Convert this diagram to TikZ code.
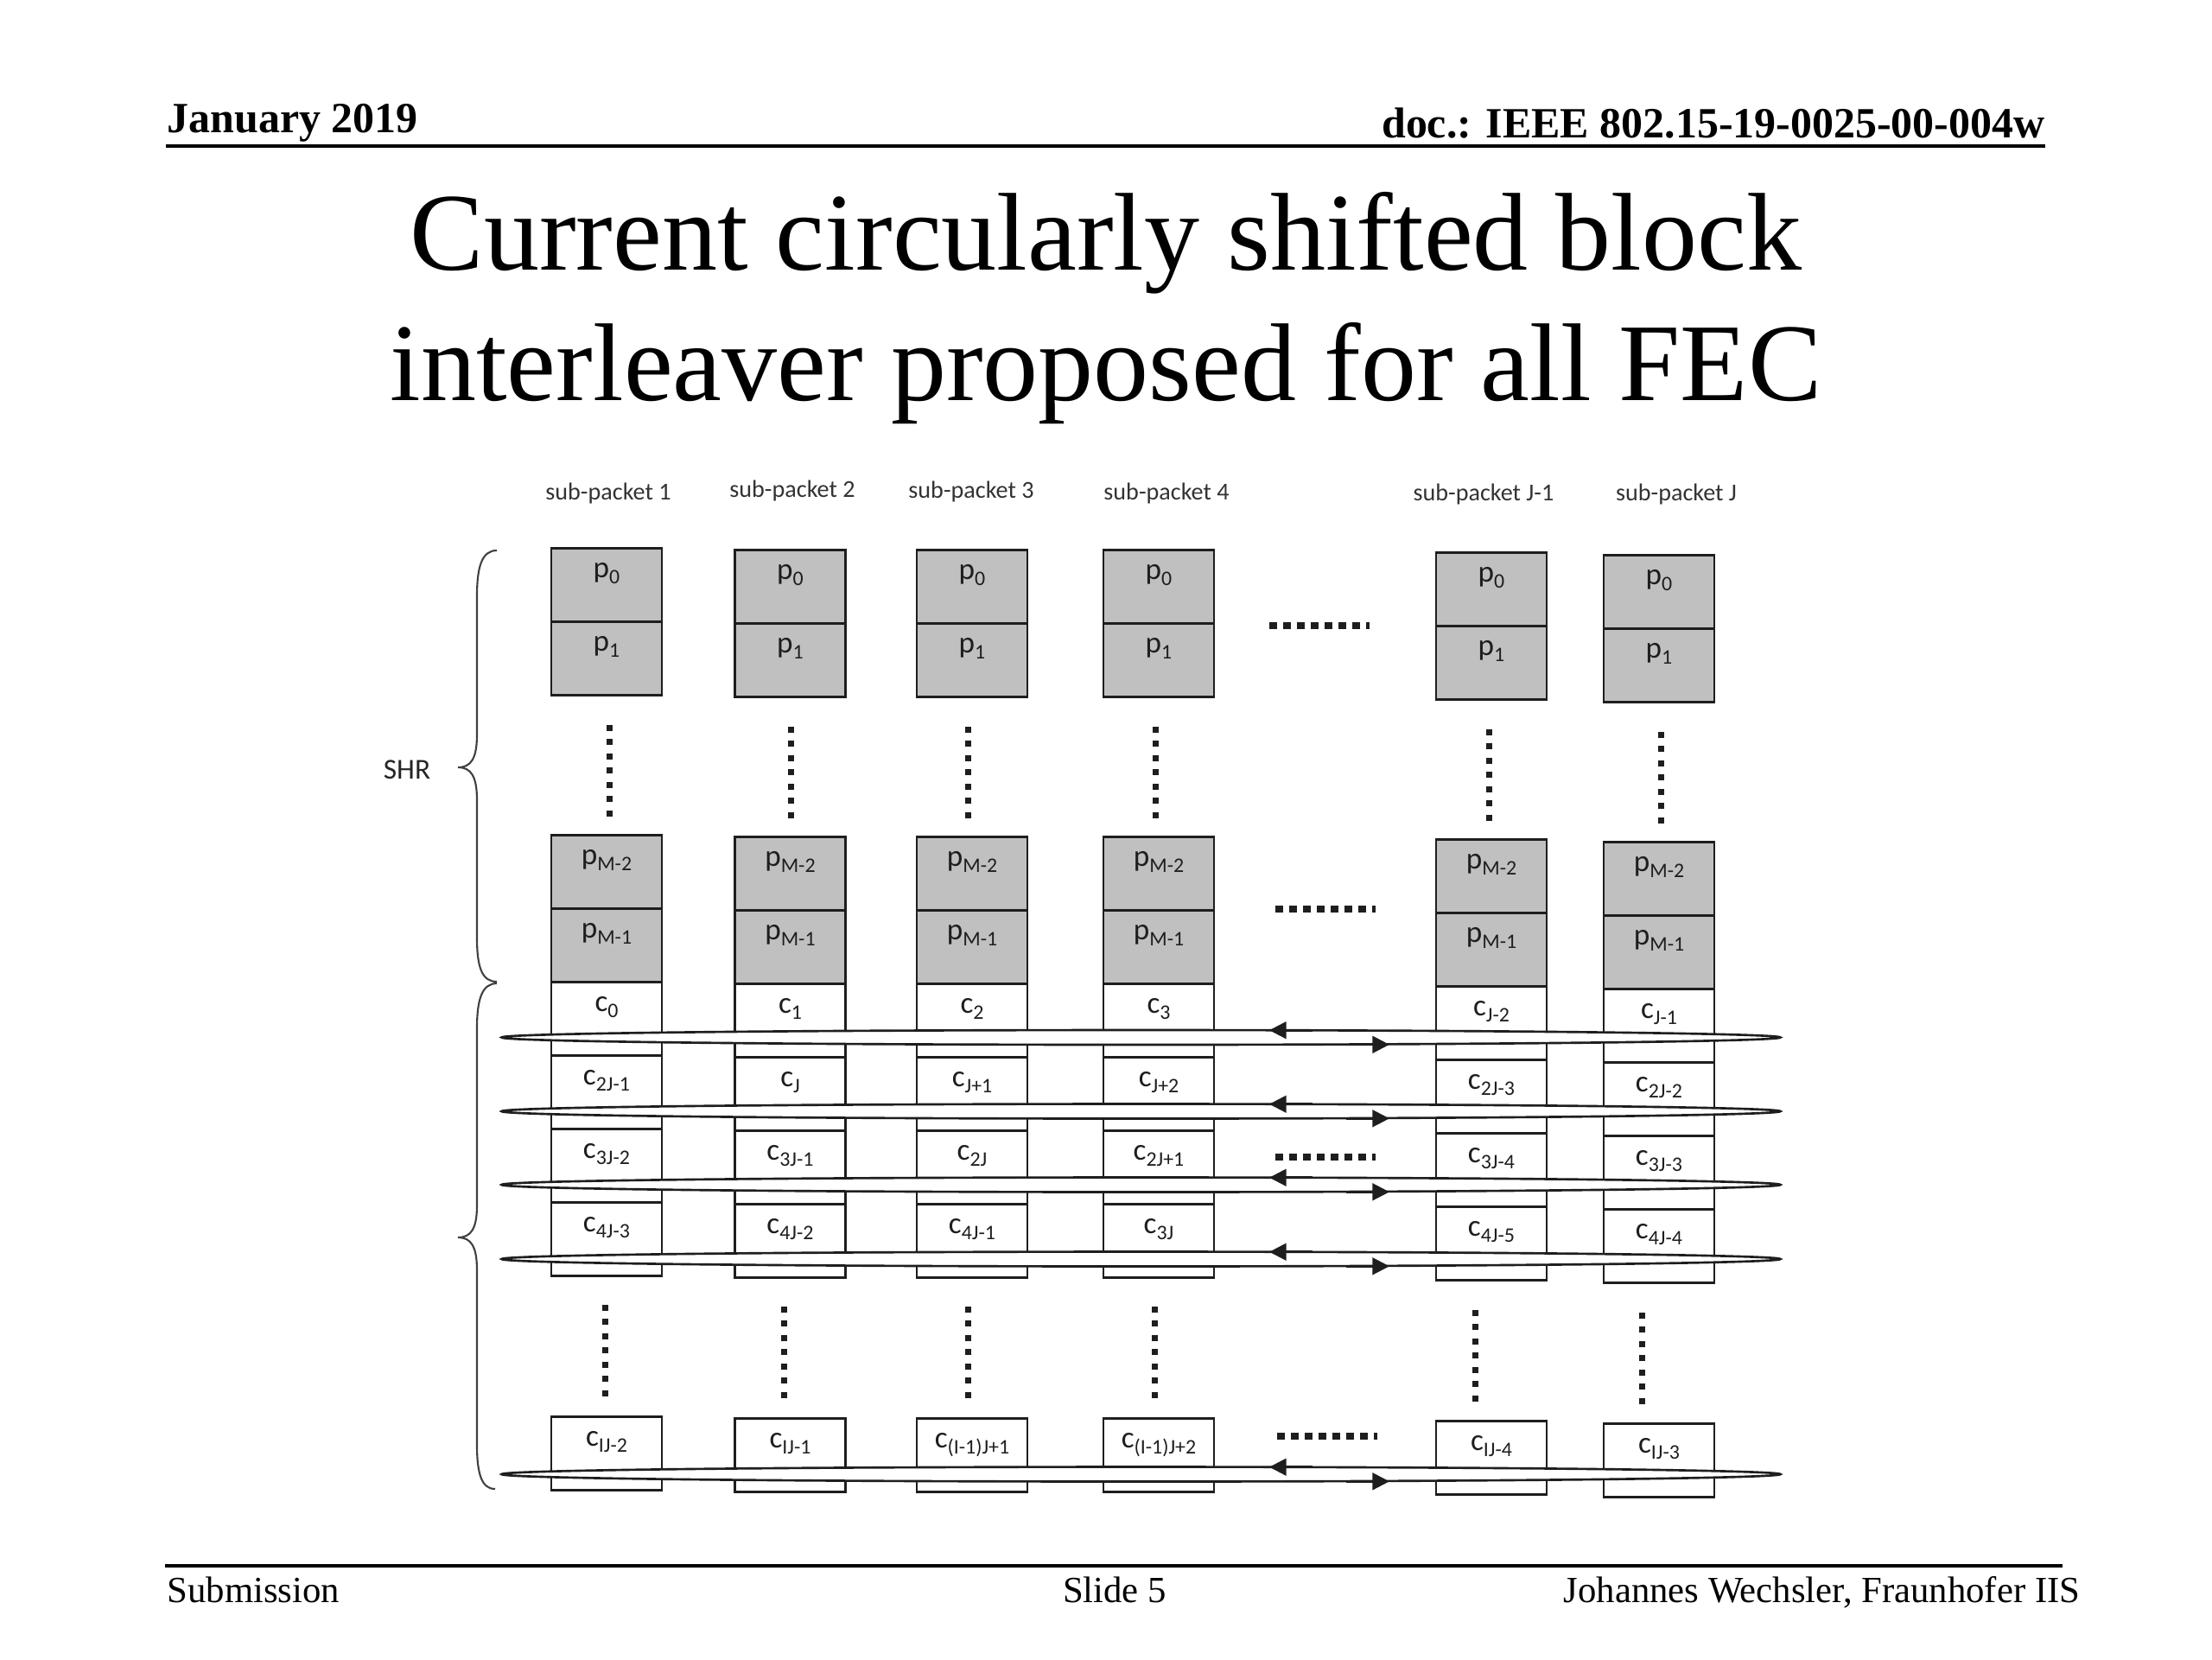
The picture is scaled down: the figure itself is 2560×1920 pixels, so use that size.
\documentclass[tikz,border=0pt]{standalone}
\usepackage{fontspec}
\setmainfont{Liberation Serif}
\newfontfamily\calfont{Carlito}
\usetikzlibrary{shapes.geometric,arrows.meta}
\definecolor{cellgray}{RGB}{192,192,192}
\definecolor{ink}{RGB}{30,30,30}
\newcommand\sublbl[2]{#1\raisebox{-2.2pt}{\fontsize{6.8pt}{7pt}\selectfont #2}}
\newcommand\mkcell[5]{%
  \node[cellbox,fill=#4] (#1) at (#2,#3) {};
  \node[celltext] (#1t) at ([yshift=-0.35cm]#1.north) {#5};}
\newcommand\mkcolumn[8]{%
  \mkcell{#1p0}{#2}{633+#3}{cellgray}{\sublbl{p}{0}}
  \mkcell{#1p1}{#2}{718+#3}{cellgray}{\sublbl{p}{1}}
  \mkcell{#1pmb}{#2}{965+#3}{cellgray}{\sublbl{p}{M-2}}
  \mkcell{#1pma}{#2}{1050+#3}{cellgray}{\sublbl{p}{M-1}}
  \mkcell{#1ra}{#2}{1135+#3}{white}{\sublbl{c}{#4}}
  \mkcell{#1rb}{#2}{1220+#3}{white}{\sublbl{c}{#5}}
  \mkcell{#1rc}{#2}{1305+#3}{white}{\sublbl{c}{#6}}
  \mkcell{#1rd}{#2}{1390+#3}{white}{\sublbl{c}{#7}}
  \mkcell{#1rl}{#2}{1638+#3}{white}{\sublbl{c}{#8}}}
\newcommand\dotcolumn[2]{\foreach \dd in {0,...,6}{\fill[ink] ({#1-3.5},{#2+\dd*16.5-3.5}) rectangle ++(7,7);}}
\newcommand\dotrow[2]{\foreach \dd in {0,...,6}{\fill[ink] ({#1+\dd*16},{#2-4}) rectangle ++(9,8);}\fill[ink] ({#1+112},{#2-4}) rectangle ++(4,8);}
\tikzset{
  cellbox/.style={draw=ink,line width=0.75pt,rectangle,anchor=north,minimum width=1.28cm,minimum height=0.85cm,inner sep=0pt},
  celltext/.style={anchor=base,inner sep=0pt,text=ink,font=\calfont\fontsize{10pt}{12pt}\selectfont},
  sptext/.style={anchor=base,inner sep=0pt,text=black!80,font=\calfont\fontsize{8pt}{10pt}\selectfont},
  loopshape/.style={draw=ink,fill=white,ellipse,line width=0.75pt,minimum width=14.79cm,minimum height=0.17cm,inner sep=0pt},
  arr/.style={ink,line width=0.75pt,-{Triangle[length=5.6pt,width=5.6pt]}},
  bracestyle/.style={draw=black!75,line width=0.6pt},
  slidetext/.style={inner sep=0pt,font=\fontsize{12.15pt}{14pt}\selectfont}
}
\begin{document}
\begin{tikzpicture}[x=0.01cm,y=-0.01cm]
\fill[white] (0,0) rectangle (2560,1920);
\useasboundingbox (0,0) rectangle (2560,1920);
% header
\node[anchor=base west,inner sep=0pt,font=\fontsize{14.2pt}{16pt}\selectfont\bfseries] (hdate) at (193,153) {January 2019};
\node[anchor=base east,inner sep=0pt,font=\fontsize{14.2pt}{16pt}\selectfont\bfseries] (hdoc) at (2367,159) {doc.: IEEE 802.15-19-0025-00-004w};
\draw[line width=1.1pt] (192,169) -- (2367,169);
% title
\node[anchor=base,inner sep=0pt,font=\fontsize{36.4pt}{44pt}\selectfont] (t1) at (1280,312) {Current circularly shifted block};
\node[anchor=base,inner sep=0pt,font=\fontsize{36.4pt}{44pt}\selectfont] (t2) at (1280,463) {interleaver proposed for all FEC};
% footer
\draw[line width=1.1pt] (191,1812) -- (2387,1812);
\node[slidetext,anchor=base west] (fsub) at (193,1854) {Submission};
\node[slidetext,anchor=base] (fslide) at (1290,1854) {Slide 5};
\node[slidetext,anchor=base east] (fauth) at (2408,1854) {Johannes Wechsler, Fraunhofer IIS};
% sub-packet labels
\node[sptext] (sp1) at (704,578) {sub-packet 1};
\node[sptext] (sp2) at (917,575) {sub-packet 2};
\node[sptext] (sp3) at (1124,576) {sub-packet 3};
\node[sptext] (sp4) at (1350,578) {sub-packet 4};
\node[sptext] (sp5) at (1717,579) {sub-packet J-1};
\node[sptext] (sp6) at (1940,579) {sub-packet J};
% columns
\mkcolumn{a}{702}{0}{0}{2J-1}{3J-2}{4J-3}{IJ-2}
\mkcolumn{b}{914.5}{2}{1}{J}{3J-1}{4J-2}{IJ-1}
\mkcolumn{c}{1125}{2}{2}{J+1}{2J}{4J-1}{(I-1)J+1}
\mkcolumn{d}{1341}{2}{3}{J+2}{2J+1}{3J}{(I-1)J+2}
\mkcolumn{e}{1726}{5}{J-2}{2J-3}{3J-4}{4J-5}{IJ-4}
\mkcolumn{f}{1920}{8}{J-1}{2J-2}{3J-3}{4J-4}{IJ-3}
% vertical dots
\dotcolumn{705}{842}
\dotcolumn{915}{844}
\dotcolumn{1120}{844}
\dotcolumn{1337}{844}
\dotcolumn{1723}{847}
\dotcolumn{1922}{850}
\dotcolumn{700}{1513}
\dotcolumn{907}{1515}
\dotcolumn{1120}{1515}
\dotcolumn{1336}{1515}
\dotcolumn{1707}{1519}
\dotcolumn{1900}{1522}
% horizontal dots
\dotrow{1469}{724}
\dotrow{1476}{1052}
\dotrow{1476}{1339}
\dotrow{1478}{1662}
% loops
\foreach \yc/\nm in {1200.5/la,1286/lb,1371/lc,1457/ld,1706/ll}{
  \node[loopshape] (\nm) at (1320.5,\yc) {};
  \coordinate (\nm-ts) at (1519,\yc-8.3);
  \coordinate (\nm-te) at (1469,\yc-8.3);
  \coordinate (\nm-bs) at (1558,\yc+8.3);
  \coordinate (\nm-be) at (1608,\yc+8.3);
  \draw[arr] (\nm-ts) -- (\nm-te);
  \draw[arr] (\nm-bs) -- (\nm-be);
}
% braces
\draw[bracestyle] (575,637) .. controls (558,637) and (552,655) .. (552,690) -- (552,850) .. controls (552,878) and (545,888) .. (530,888) .. controls (545,888) and (552,898) .. (552,926) -- (552,1085) .. controls (552,1120) and (558,1136) .. (575,1136);
\draw[bracestyle] (575,1138) .. controls (558,1138) and (552,1156) .. (552,1190) -- (552,1395) .. controls (552,1422) and (545,1432) .. (530,1432) .. controls (545,1432) and (552,1442) .. (552,1470) -- (552,1672) .. controls (552,1707) and (558,1723) .. (573,1723);
\node[inner sep=0pt,text=black!85,font=\calfont\fontsize{9.5pt}{11pt}\selectfont] (shr) at (471,891) {SHR};
\end{tikzpicture}
\end{document}
